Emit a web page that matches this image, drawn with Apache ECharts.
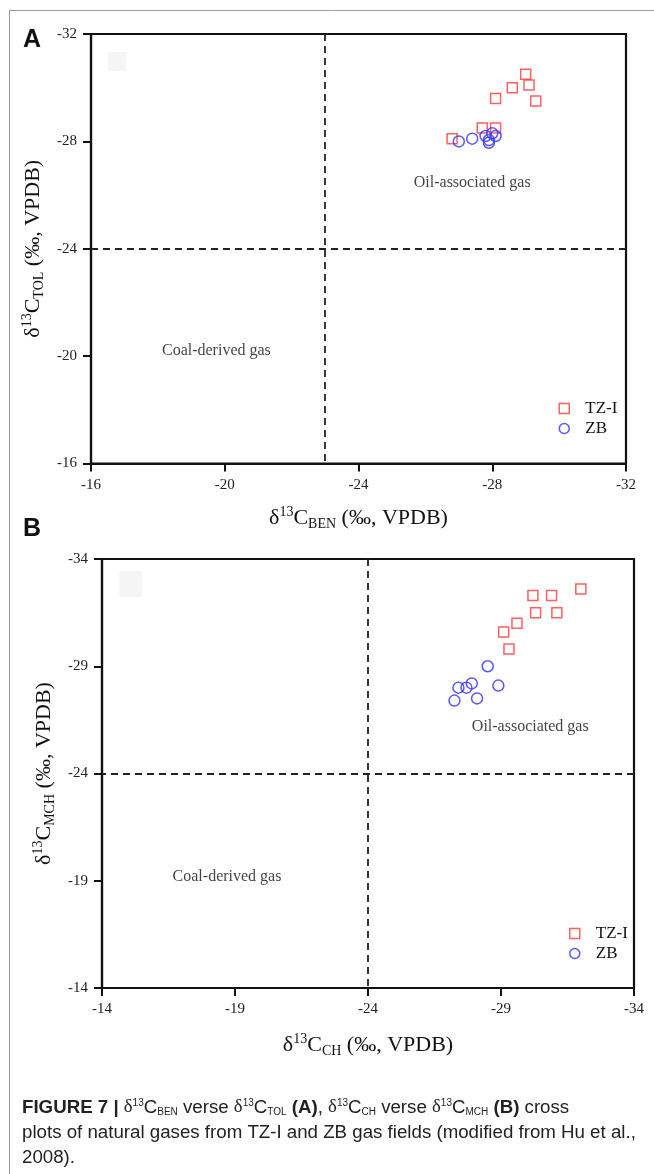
<!DOCTYPE html>
<html>
<head>
<meta charset="utf-8">
<script src="https://cdn.jsdelivr.net/npm/echarts@6/dist/echarts.min.js"></script>
<style>
  html, body { margin: 0; padding: 0; background: #fff; }
  #chart { width: 654px; height: 1174px; }
</style>
</head>
<body>
<div id="chart"></div>
<script>
// Panel A: δ13C of benzene (x) vs toluene (y), ‰ VPDB
const benTZ = [-26.8, -27.7, -28.1, -28.1, -28.6, -29.0, -29.1, -29.3];
const tolTZ = [-28.1, -28.5, -28.5, -29.6, -30.0, -30.5, -30.1, -29.5];
const benZB = [-27.0, -27.4, -27.8, -27.9, -28.0, -28.1, -27.9];
const tolZB = [-28.0, -28.1, -28.2, -28.05, -28.3, -28.2, -27.95];

// Panel B: δ13C of cyclohexane (x) vs methylcyclohexane (y), ‰ VPDB
const chTZ = [-32.0, -30.2, -30.9, -30.3, -31.1, -29.6, -29.1, -29.3];
const mchTZ = [-32.6, -32.3, -32.3, -31.5, -31.5, -31.0, -30.6, -29.8];
const chZB = [-28.5, -27.9, -27.7, -27.4, -28.9, -28.1, -27.25];
const mchZB = [-29.0, -28.2, -28.0, -28.0, -28.1, -27.5, -27.4];

// Axis ticks
const ticksA = [-32, -28, -24, -20, -16];
const ticksB = [-34, -29, -24, -19, -14];

// Field boundaries
const dividerA = { x: -23, y: -24 };
const dividerB = { x: -24, y: -24 };

// Field labels: [text, x, y]
const fieldsA = [['Oil-associated gas', -27.4, -26.45], ['Coal-derived gas', -19.75, -20.2]];
const fieldsB = [['Oil-associated gas', -30.1, -26.2], ['Coal-derived gas', -18.7, -19.2]];

const SERIF = "'Liberation Serif', 'DejaVu Serif', serif";
const SANS = "'Liberation Sans', Arial, sans-serif";
const INK = '#111';
const RED = '#ff4444';
const BLUE = '#3b3bff';

const zip = (xs, ys) => xs.map((x, i) => [x, ys[i]]);

const titleRich = {
  d: { fontFamily: SERIF, fontSize: 22, lineHeight: 26, color: INK },
  sup: { fontFamily: SERIF, fontSize: 14, lineHeight: 12, verticalAlign: 'top', color: INK },
  sub: { fontFamily: SERIF, fontSize: 14, lineHeight: 12, verticalAlign: 'bottom', color: INK }
};

function axis(gridIndex, ticks, name, nameGap) {
  return {
    type: 'value',
    gridIndex,
    min: ticks[0],
    max: ticks[ticks.length - 1],
    inverse: true,
    name,
    nameLocation: 'middle',
    nameGap,
    nameTextStyle: { rich: titleRich },
    axisLine: { show: true, onZero: false, lineStyle: { color: INK, width: 2.2 } },
    axisTick: { show: true, inside: false, length: 8, customValues: ticks, lineStyle: { color: INK, width: 2 } },
    axisLabel: {
      show: true, customValues: ticks, margin: 14,
      fontFamily: SERIF, fontSize: 15, color: '#222',
      formatter: v => String(v)
    },
    splitLine: { show: false }
  };
}

function points(name, idx, data) {
  const isTZ = name === 'TZ-I';
  return {
    name,
    type: 'scatter',
    xAxisIndex: idx, yAxisIndex: idx,
    data,
    symbol: isTZ ? 'rect' : 'circle',
    symbolSize: isTZ ? 10 : 11,
    itemStyle: { color: 'rgba(0,0,0,0)', borderColor: isTZ ? RED : BLUE, borderWidth: 1.5, opacity: 0.85 },
    emphasis: { disabled: true },
    z: 5
  };
}

function fields(idx, labels, divider) {
  return {
    type: 'scatter',
    xAxisIndex: idx, yAxisIndex: idx,
    symbolSize: 0,
    silent: true,
    data: labels.map(([t, x, y]) => ({ name: t, value: [x, y] })),
    label: {
      show: true, position: 'inside', formatter: '{b}',
      fontFamily: SERIF, fontSize: 16, color: INK
    },
    markLine: {
      silent: true,
      symbol: ['none', 'none'],
      label: { show: false },
      lineStyle: { color: '#222', width: 1.8, type: [7, 5] },
      data: [{ xAxis: divider.x }, { yAxis: divider.y }]
    },
    z: 3
  };
}

function legend(left, top) {
  return {
    orient: 'vertical',
    left, top,
    padding: 0,
    itemWidth: 10, itemHeight: 10, itemGap: 3,
    selectedMode: false,
    textStyle: { fontFamily: SERIF, fontSize: 17, color: INK, padding: [0, 0, 0, 11] },
    data: [
      { name: 'TZ-I', icon: 'rect', itemStyle: { color: 'rgba(0,0,0,0)', borderColor: RED, borderWidth: 1.5 } },
      { name: 'ZB', icon: 'circle', itemStyle: { color: 'rgba(0,0,0,0)', borderColor: BLUE, borderWidth: 1.5 } }
    ]
  };
}

const CAP = 18.7;
const capRich = {
  n: { fontFamily: SANS, fontSize: CAP, color: '#222' },
  b: { fontFamily: SANS, fontSize: CAP, fontWeight: 'bold', color: '#111' },
  g: { fontFamily: SANS, fontSize: CAP, color: '#8a8a8a' },
  dl: { fontFamily: SERIF, fontSize: CAP, color: '#222' },
  sup: { fontFamily: SANS, fontSize: 10, lineHeight: 10, verticalAlign: 'top', color: '#222' },
  sub: { fontFamily: SANS, fontSize: 10, lineHeight: 9, verticalAlign: 'bottom', color: '#222' }
};

const iso = (sub) => `{dl|δ}{sup|13}{n|C}{sub|${sub}}`;
const captionLines = [
  `{b|FIGURE 7 | }${iso('BEN')}{n| verse }${iso('TOL')}{b| (A)}{n|, }${iso('CH')}{n| verse }${iso('MCH')}{b| (B)}{n| cross}`,
  `{n|plots of natural gases from TZ-I and ZB gas fields (modified from }{g|Hu et al.,}`,
  `{g|2008}{n|).}`
];

const chart = echarts.init(document.getElementById('chart'), null, { renderer: 'canvas' });

chart.setOption({
  animation: false,
  backgroundColor: '#fff',
  grid: [
    { left: 91, top: 34, width: 535, height: 429.5, show: true, borderColor: INK, borderWidth: 2.2, containLabel: false },
    { left: 102, top: 559, width: 532, height: 429, show: true, borderColor: INK, borderWidth: 2.2, containLabel: false }
  ],
  xAxis: [
    axis(0, ticksA, '{d|δ}{sup|13}{d|C}{sub|BEN}{d| (‰, VPDB)}', 42),
    axis(1, ticksB, '{d|δ}{sup|13}{d|C}{sub|CH}{d| (‰, VPDB)}', 44)
  ],
  yAxis: [
    axis(0, ticksA, '{d|δ}{sup|13}{d|C}{sub|TOL}{d| (‰, VPDB)}', 43),
    axis(1, ticksB, '{d|δ}{sup|13}{d|C}{sub|MCH}{d| (‰, VPDB)}', 42)
  ],
  legend: [legend(558.5, 400), legend(569, 925)],
  series: [
    fields(0, fieldsA, dividerA),
    points('TZ-I', 0, zip(benTZ, tolTZ)),
    points('ZB', 0, zip(benZB, tolZB)),
    fields(1, fieldsB, dividerB),
    points('TZ-I', 1, zip(chTZ, mchTZ)),
    points('ZB', 1, zip(chZB, mchZB))
  ],
  graphic: [
    // figure frame
    { type: 'line', shape: { x1: 9, y1: 10.5, x2: 654, y2: 10.5 }, style: { stroke: '#9a9a9a', lineWidth: 1 }, silent: true },
    { type: 'line', shape: { x1: 9.5, y1: 10, x2: 9.5, y2: 1174 }, style: { stroke: '#9a9a9a', lineWidth: 1 }, silent: true },
    // faint patches inside the plot frames
    { type: 'rect', shape: { x: 108, y: 52, width: 18, height: 19 }, style: { fill: '#f5f5f5' }, silent: true, z: -1 },
    { type: 'rect', shape: { x: 119, y: 571, width: 23, height: 26 }, style: { fill: '#f5f5f5' }, silent: true, z: -1 },
    // panel letters
    { type: 'text', left: 23, top: 28, style: { text: 'A', font: `bold 25px ${SANS}`, fill: '#111' }, silent: true },
    { type: 'text', left: 23, top: 517, style: { text: 'B', font: `bold 25px ${SANS}`, fill: '#111' }, silent: true },
    // caption
    ...captionLines.map((t, i) => ({
      type: 'text', left: 22, top: 1098 + i * 25, silent: true,
      style: { text: t, rich: capRich, fill: '#222' }
    }))
  ]
});
</script>
</body>
</html>
